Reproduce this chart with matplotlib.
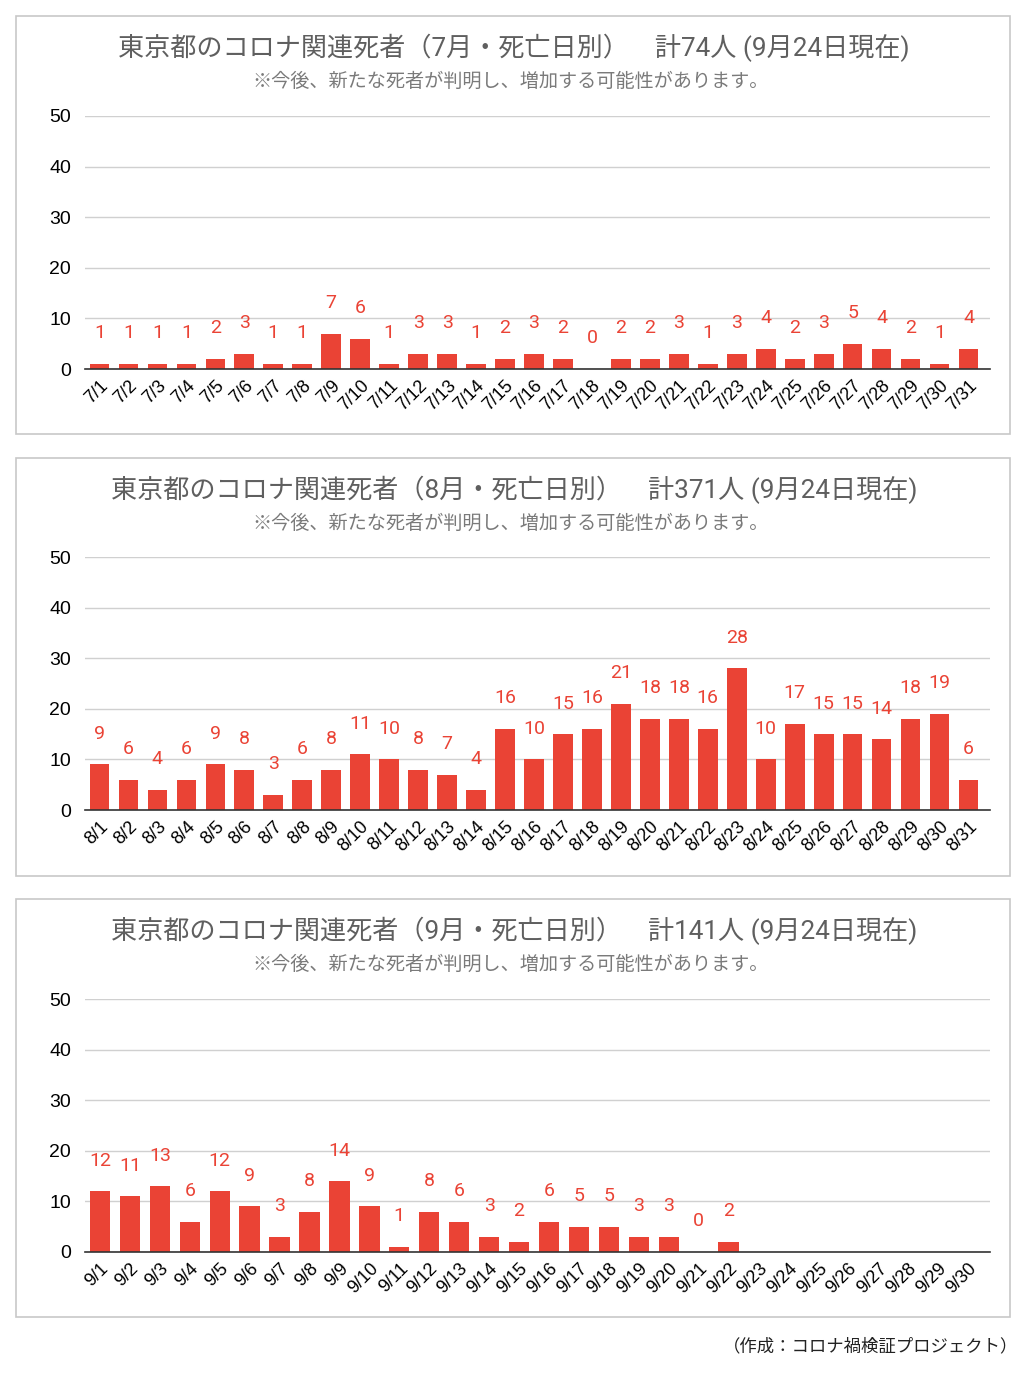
import matplotlib
matplotlib.use('Agg')
import matplotlib.pyplot as plt
from matplotlib.patches import Rectangle

plt.rcParams['font.family'] = ['Noto Sans CJK JP', 'DejaVu Sans']

# 月ごとの死亡日別の人数
jul = [1, 1, 1, 1, 2, 3, 1, 1, 7, 6, 1, 3, 3, 1, 2, 3, 2, 0, 2, 2, 3, 1, 3, 4, 2, 3, 5, 4, 2, 1, 4]
aug = [9, 6, 4, 6, 9, 8, 3, 6, 8, 11, 10, 8, 7, 4, 16, 10, 15, 16, 21, 18, 18, 16, 28, 10, 17, 15, 15, 14, 18, 19, 6]
sep = [12, 11, 13, 6, 12, 9, 3, 8, 14, 9, 1, 8, 6, 3, 2, 6, 5, 5, 3, 3, 0, 2]

jul_labels = ['7/%d' % d for d in range(1, 32)]
aug_labels = ['8/%d' % d for d in range(1, 32)]
sep_labels = ['9/%d' % d for d in range(1, 31)]

titles = ['東京都のコロナ関連死者（7月・死亡日別）    計74人 (9月24日現在)',
          '東京都のコロナ関連死者（8月・死亡日別）    計371人 (9月24日現在)',
          '東京都のコロナ関連死者（9月・死亡日別）    計141人 (9月24日現在)']
subtitle = '※今後、新たな死者が判明し、増加する可能性があります。'
credit = '（作成：コロナ禍検証プロジェクト）'

yticks = [0, 10, 20, 30, 40, 50]

W, H = 1028, 1374
fig = plt.figure(figsize=(W / 100, H / 100), dpi=100)

red = '#ea4335'

panels = [(jul, jul_labels, 16, 116, 369),
          (aug, aug_labels, 458, 557, 810),
          (sep, sep_labels, 899, 999, 1252)]

for i, (vals, labels, box_top, ax_top, ax_bot) in enumerate(panels):
    # 枠
    fig.patches.append(Rectangle((16 / W, 1 - (box_top + 418) / H), 994 / W, 418 / H,
                                 transform=fig.transFigure, fill=False,
                                 edgecolor='#c8c8c8', linewidth=1.2))
    fig.text(514 / W, 1 - (box_top + 32) / H, titles[i], ha='center', va='center',
             fontsize=18.8, color='#5f5f5f', family=['Roboto', 'Noto Sans CJK JP'])
    fig.text(511 / W, 1 - (box_top + 65) / H, subtitle, ha='center', va='center',
             fontsize=13.8, color='#7a7a7a')

    ax = fig.add_axes([85 / W, 1 - ax_bot / H, 905 / W, (ax_bot - ax_top) / H])
    x = list(range(len(vals)))
    ax.bar(x, vals, width=0.68, color=red, zorder=3)
    for xi, v in zip(x, vals):
        ax.annotate(str(v), (xi, v), xytext=(0, 22), textcoords='offset points',
                    ha='center', va='center', fontsize=14, color=red,
                    family=['Roboto', 'DejaVu Sans'])

    n = len(labels)
    ax.set_xlim(-0.5, n - 0.5 + n * 0.0078)
    ax.set_ylim(0, 50)
    ax.set_yticks(yticks)
    ax.set_yticklabels([str(t) for t in yticks], fontsize=14, family='Liberation Sans')
    ax.set_xticks(range(n))
    ax.set_xticklabels(labels, rotation=45, ha='right', va='top', rotation_mode='anchor',
                       fontsize=13, family='Liberation Sans')
    ax.tick_params(length=0, pad=10)
    ax.tick_params(axis='x', pad=6)
    ax.grid(axis='y', color='#d0d0d0', linewidth=1, zorder=0)
    for s in ['top', 'right', 'left']:
        ax.spines[s].set_visible(False)
    ax.spines['bottom'].set_color('#333333')
    ax.spines['bottom'].set_linewidth(1.2)
    ax.spines['bottom'].set_zorder(4)

fig.text(1018 / W, 1 - 1346 / H, credit, ha='right', va='center', fontsize=12.5, color='#222222')

fig.savefig('out.png', dpi=100, facecolor='white')
